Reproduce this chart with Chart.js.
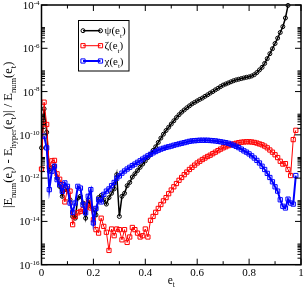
<!DOCTYPE html>
<html>
<head>
<meta charset="utf-8">
<script src="https://cdn.jsdelivr.net/npm/chart.js@4.4.1/dist/chart.umd.min.js"></script>
<style>
  html, body { margin: 0; padding: 0; background: #fff; }
  #wrap { width: 306px; height: 289px; }
</style>
</head>
<body>
<div id="wrap"><canvas id="errChart"></canvas></div>
<script>
// e_t grid, step 0.01
const et = [0, 0.01, 0.02, 0.03, 0.04, 0.05, 0.06, 0.07, 0.08, 0.09,
  0.10, 0.11, 0.12, 0.13, 0.14, 0.15, 0.16, 0.17, 0.18, 0.19,
  0.20, 0.21, 0.22, 0.23, 0.24, 0.25, 0.26, 0.27, 0.28, 0.29,
  0.30, 0.31, 0.32, 0.33, 0.34, 0.35, 0.36, 0.37, 0.38, 0.39,
  0.40, 0.41, 0.42, 0.43, 0.44, 0.45, 0.46, 0.47, 0.48, 0.49,
  0.50, 0.51, 0.52, 0.53, 0.54, 0.55, 0.56, 0.57, 0.58, 0.59,
  0.60, 0.61, 0.62, 0.63, 0.64, 0.65, 0.66, 0.67, 0.68, 0.69,
  0.70, 0.71, 0.72, 0.73, 0.74, 0.75, 0.76, 0.77, 0.78, 0.79,
  0.80, 0.81, 0.82, 0.83, 0.84, 0.85, 0.86, 0.87, 0.88, 0.89,
  0.90, 0.91, 0.92, 0.93, 0.94, 0.95, 0.96, 0.97, 0.98];

// log10 of the relative error
// psi: e_t = 0 .. 0.95
const psiLog = [-10.6, -8.8, -9.88, -11.68, -11.53, -11.45, -11.99, -12.38, -12.84, -12.53,
  -12.55, -13.0, -13.77, -13.85, -12.92, -12.84, -13.15, -13.85, -13.0, -13.3,
  -13.46, -13.7, -12.9, -12.8, -13.0, -13.2, -12.9, -12.7, -12.5, -11.84,
  -13.77, -12.84, -12.7, -12.35, -12.2, -11.95, -11.8, -11.65, -11.5, -11.35,
  -11.2, -11.05, -10.9, -10.72, -10.55, -10.35, -10.15, -9.97, -9.8, -9.65,
  -9.5, -9.35, -9.2, -9.07, -8.95, -8.85, -8.75, -8.66, -8.57, -8.5,
  -8.43, -8.36, -8.3, -8.22, -8.15, -8.07, -8.0, -7.92, -7.85, -7.77,
  -7.7, -7.65, -7.6, -7.55, -7.5, -7.46, -7.43, -7.4, -7.37, -7.34,
  -7.32, -7.28, -7.22, -7.12, -7.0, -6.88, -6.7, -6.48, -6.25, -6.02,
  -5.78, -5.53, -5.27, -5.0, -4.6, -4.02];

// zeta: e_t = 0 .. 0.98
const zetaLog = [-11.58, -8.49, -9.52, -11.5, -11.2, -11.18, -11.8, -12.05, -12.3, -13.1,
  -12.5, -12.6, -14.15, -13.77, -13.6, -13.54, -13.46, -13.34, -13.15, -13.38,
  -13.92, -14.38, -14.54, -13.85, -14.23, -14.5, -15.34, -14.35, -14.66, -14.35,
  -14.38, -14.85, -14.38, -14.97, -14.72, -14.28, -14.38, -14.54, -14.72, -14.66,
  -14.35, -14.72, -13.95, -13.77, -13.58, -13.4, -13.22, -13.05, -12.9, -12.72,
  -12.55, -12.4, -12.25, -12.1, -11.97, -11.84, -11.72, -11.6, -11.5, -11.4,
  -11.3, -11.22, -11.14, -11.07, -11.0, -10.94, -10.87, -10.8, -10.73, -10.66,
  -10.6, -10.55, -10.5, -10.46, -10.42, -10.39, -10.36, -10.34, -10.33, -10.32,
  -10.32, -10.33, -10.35, -10.38, -10.42, -10.46, -10.52, -10.6, -10.7, -10.8,
  -10.92, -11.05, -11.22, -11.35, -11.33, -11.6, -11.88, -10.22, -9.79];

// chi: e_t = 0.01 .. 0.98
const chiLog = [-10.06, -10.6, -12.53, -11.68, -11.45, -12.07, -12.3, -12.61, -12.22, -12.38,
  -13.15, -13.58, -13.15, -12.38, -12.46, -13.23, -13.6, -12.84, -12.53, -14.07,
  -13.4, -13.0, -13.1, -12.75, -12.6, -12.5, -12.35, -12.2, -12.0, -11.9,
  -11.77, -11.67, -11.58, -11.5, -11.42, -11.35, -11.27, -11.2, -11.12, -11.04,
  -10.97, -10.9, -10.83, -10.77, -10.71, -10.66, -10.62, -10.58, -10.55, -10.52,
  -10.48, -10.45, -10.42, -10.39, -10.36, -10.33, -10.3, -10.28, -10.27, -10.26,
  -10.25, -10.25, -10.25, -10.25, -10.26, -10.27, -10.28, -10.3, -10.32, -10.34,
  -10.36, -10.39, -10.43, -10.48, -10.53, -10.59, -10.66, -10.74, -10.8, -10.88,
  -10.97, -11.07, -11.18, -11.3, -11.45, -11.6, -11.78, -11.97, -12.17, -12.4,
  -12.6, -13.0, -13.3, -13.38, -12.97, -13.15, -13.2, -11.88];

const xTicks = [0, 0.2, 0.4, 0.6, 0.8, 1];
const xMinorTicks = [0.1, 0.3, 0.5, 0.7, 0.9];
const yTickExps = [-4, -6, -8, -10, -12, -14, -16];
const seriesNames = ["ψ", "ζ", "χ"];
const seriesColors = ["#000000", "#ff0000", "#0000ff"];

const FONT = "'Liberation Serif', 'Times New Roman', serif";

function toPoints(logs, offset) {
  return logs.map((v, i) => ({ x: et[i + offset], y: Math.pow(10, v) }));
}

// draws text pieces with sub/superscripts: parts = [[text, "sub"|"sup"|undefined], ...]
function richText(ctx, parts, x, y, align, size, small) {
  let w = 0;
  parts.forEach(p => {
    ctx.font = (p[1] ? small : size) + "px " + FONT;
    w += ctx.measureText(p[0]).width;
  });
  let cx = align === "center" ? x - w / 2 : align === "right" ? x - w : x;
  ctx.textAlign = "left";
  ctx.textBaseline = "alphabetic";
  parts.forEach(p => {
    ctx.font = (p[1] ? small : size) + "px " + FONT;
    let dy = 0;
    if (p[1] === "sub") dy = size * 0.3;
    if (p[1] === "sup") dy = -size * 0.38;
    ctx.fillText(p[0], cx, y + dy);
    cx += ctx.measureText(p[0]).width;
  });
}

function drawMarker(ctx, kind, x, y, color) {
  ctx.strokeStyle = color;
  ctx.lineWidth = 1;
  ctx.beginPath();
  if (kind === "circle") ctx.arc(x, y, 2, 0, Math.PI * 2);
  else ctx.rect(x - 2.1, y - 2.1, 4.2, 4.2);
  ctx.stroke();
}

const framePlugin = {
  id: "framePlugin",
  afterDraw(chart) {
    const ctx = chart.ctx;
    const a = chart.chartArea;
    const xs = chart.scales.x, ys = chart.scales.y;
    ctx.save();

    // inward ticks on all four sides
    ctx.strokeStyle = "#000";
    ctx.lineWidth = 1;
    ctx.beginPath();
    xTicks.forEach(v => {
      const px = xs.getPixelForValue(v);
      ctx.moveTo(px, a.bottom); ctx.lineTo(px, a.bottom - 6);
      ctx.moveTo(px, a.top); ctx.lineTo(px, a.top + 6);
    });
    xMinorTicks.forEach(v => {
      const px = xs.getPixelForValue(v);
      ctx.moveTo(px, a.bottom); ctx.lineTo(px, a.bottom - 3.5);
      ctx.moveTo(px, a.top); ctx.lineTo(px, a.top + 3.5);
    });
    yTickExps.forEach(e => {
      const py = ys.getPixelForValue(Math.pow(10, e));
      ctx.moveTo(a.left, py); ctx.lineTo(a.left + 6, py);
      ctx.moveTo(a.right, py); ctx.lineTo(a.right - 6, py);
      if (e > -4) return;
      for (let k = 2; k <= 9; k++) {
        const pm = ys.getPixelForValue(k * Math.pow(10, e));
        ctx.moveTo(a.left, pm); ctx.lineTo(a.left + 3.5, pm);
        ctx.moveTo(a.right, pm); ctx.lineTo(a.right - 3.5, pm);
      }
    });
    ctx.stroke();

    // frame
    ctx.lineWidth = 1.5;
    ctx.strokeRect(a.left, a.top, a.right - a.left, a.bottom - a.top);

    // tick labels
    ctx.fillStyle = "#000";
    xTicks.forEach(v => {
      richText(ctx, [[String(v)]], xs.getPixelForValue(v), a.bottom + 11.5, "center", 11, 7);
    });
    yTickExps.forEach(e => {
      const py = ys.getPixelForValue(Math.pow(10, e));
      richText(ctx, [["10"], [String(e), "sup"]], 39.5, py + 4, "right", 11, 7);
    });

    // axis titles
    richText(ctx, [["e"], ["t", "sub"]], (a.left + a.right) / 2, 283.5, "center", 11.5, 7.5);
    ctx.save();
    ctx.translate(12, (a.top + a.bottom) / 2);
    ctx.rotate(-Math.PI / 2);
    richText(ctx, [["|E"], ["num", "sub"], ["(e"], ["t", "sub"], [") - E"], ["hyper", "sub"],
      ["(e"], ["t", "sub"], [")| / E"], ["num", "sub"], ["(e"], ["t", "sub"], [")"]],
      0, 0, "center", 12.5, 8.5);
    ctx.restore();

    // legend
    const lx = 78.5, ly = 20.5, lw = 50.5, lh = 50.5;
    ctx.fillStyle = "#fff";
    ctx.fillRect(lx, ly, lw, lh);
    ctx.strokeStyle = "#000";
    ctx.lineWidth = 1;
    ctx.strokeRect(lx, ly, lw, lh);
    const rows = [30.7, 45.7, 61];
    const widths = [1.5, 1, 2];
    const kinds = ["circle", "rect", "rect"];
    rows.forEach((ry, i) => {
      ctx.strokeStyle = seriesColors[i];
      ctx.lineWidth = widths[i];
      ctx.beginPath();
      ctx.moveTo(83, ry); ctx.lineTo(100.5, ry);
      ctx.stroke();
      drawMarker(ctx, kinds[i], 83, ry, seriesColors[i]);
      drawMarker(ctx, kinds[i], 100.5, ry, seriesColors[i]);
      ctx.fillStyle = "#000";
      richText(ctx, [[seriesNames[i] + "(e"], ["t", "sub"], [")"]], 104.5, ry + 3.5, "left", 11, 7);
    });

    ctx.restore();
  }
};

new Chart(document.getElementById("errChart"), {
  type: "line",
  data: {
    datasets: [
      {
        label: "ψ(e_t)",
        data: toPoints(psiLog, 0),
        borderColor: seriesColors[0],
        borderWidth: 1.5,
        pointStyle: "circle",
        pointRadius: 2,
        pointBorderWidth: 1,
        pointBorderColor: seriesColors[0],
        pointBackgroundColor: "rgba(0,0,0,0)",
        order: 2
      },
      {
        label: "ζ(e_t)",
        data: toPoints(zetaLog, 0),
        borderColor: seriesColors[1],
        borderWidth: 1,
        pointStyle: "rect",
        pointRadius: 3,
        pointBorderWidth: 1,
        pointBorderColor: seriesColors[1],
        pointBackgroundColor: "rgba(0,0,0,0)",
        order: 1
      },
      {
        label: "χ(e_t)",
        data: toPoints(chiLog, 1),
        borderColor: seriesColors[2],
        borderWidth: 2,
        pointStyle: "rect",
        pointRadius: 3,
        pointBorderWidth: 1,
        pointBorderColor: seriesColors[2],
        pointBackgroundColor: "rgba(0,0,0,0)",
        order: 0
      }
    ]
  },
  options: {
    responsive: true,
    maintainAspectRatio: false,
    animation: false,
    devicePixelRatio: 1,
    layout: { padding: { left: 41.5, top: 4.7, right: 3.5, bottom: 24.3 } },
    elements: { line: { tension: 0 } },
    datasets: { line: { clip: false } },
    scales: {
      x: { type: "linear", min: 0, max: 1, display: false },
      y: { type: "logarithmic", min: 1e-16, max: 1e-4, display: false }
    },
    plugins: { legend: { display: false }, tooltip: { enabled: false } }
  },
  plugins: [framePlugin]
});
</script>
</body>
</html>
